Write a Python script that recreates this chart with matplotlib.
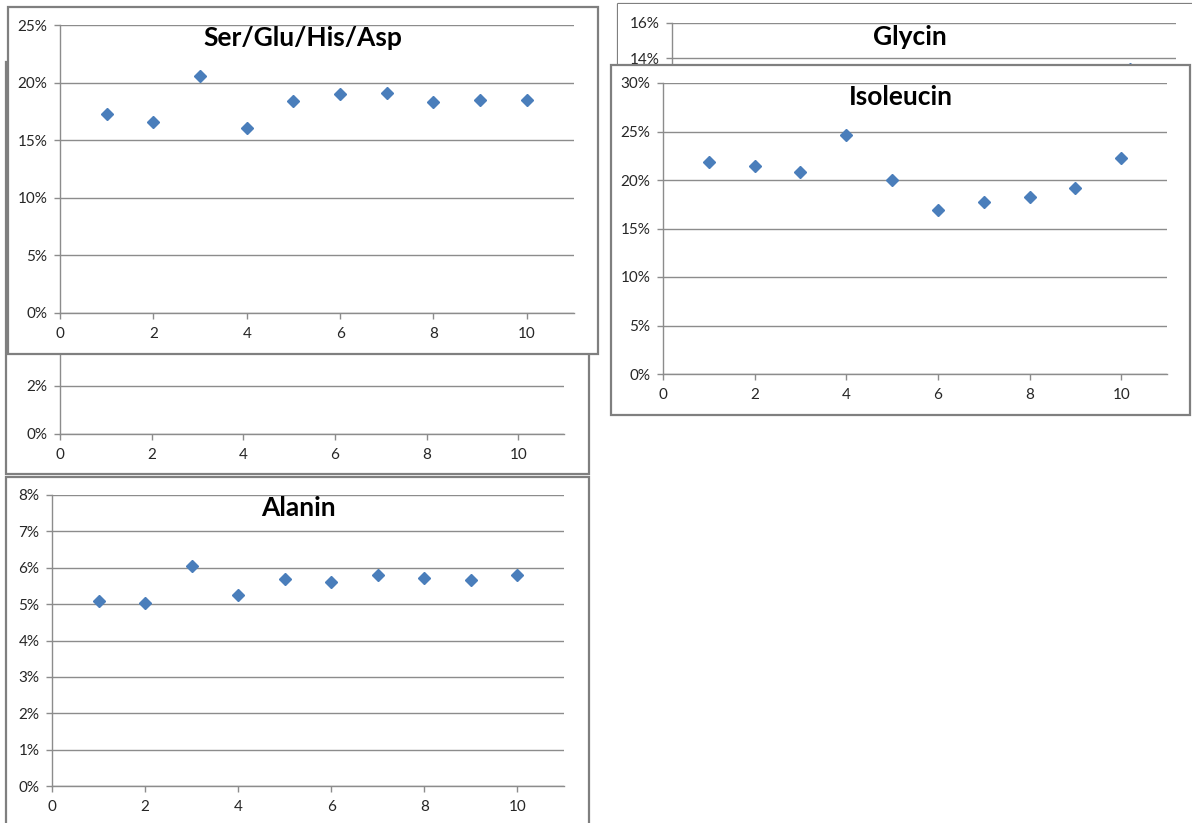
import matplotlib
matplotlib.use("Agg")
import matplotlib.pyplot as plt
from matplotlib.patches import Rectangle
from matplotlib.lines import Line2D

W, H = 1192, 823

# data (fractions)
runs = [1, 2, 3, 4, 5, 6, 7, 8, 9, 10]
ser_glu_his_asp = [0.173, 0.166, 0.206, 0.161, 0.184, 0.190, 0.191, 0.183, 0.185, 0.185]
isoleucin = [0.219, 0.214, 0.208, 0.246, 0.200, 0.169, 0.177, 0.182, 0.192, 0.223]
alanin = [0.0509, 0.0503, 0.0606, 0.0525, 0.0568, 0.0562, 0.0579, 0.0572, 0.0566, 0.0579]
# only the last glycin point peeks out from behind the Isoleucin chart
glycin_runs = [10]
glycin = [0.134]

blue = "#4a7ebb"
grid_col = "#8c8c8c"
border_col = "#7f7f7f"
text_col = "#262626"
font = "Lato"


def fx(x):
    return x / W


def fy(y):
    return 1 - y / H


def panel(fig, left, top, right, bottom, z, full=True):
    r = Rectangle((fx(left), fy(bottom)), fx(right - left), (bottom - top) / H,
                  transform=fig.transFigure, facecolor="white",
                  edgecolor=border_col if full else "none", linewidth=1.6, zorder=z)
    fig.patches.append(r)
    if not full:
        # only the top and left edges are seen
        fig.lines.append(Line2D([fx(left), fx(left), fx(right)],
                                [fy(bottom), fy(top), fy(top)],
                                transform=fig.transFigure, color=border_col,
                                linewidth=1.6, zorder=z))


def chart(fig, x0, x11, ytop, y0, ymax, ystep, z, show_y=None, show_x=True):
    # show_y: lowest and highest percentage that is not covered by another chart
    ax = fig.add_axes([fx(x0), fy(y0), fx(x11 - x0), (y0 - ytop) / H], zorder=z)
    ax.patch.set_alpha(0)
    ax.set_xlim(0, 11)
    ax.set_ylim(0, ymax)
    xt = list(range(0, 11, 2))
    ax.set_xticks(xt)
    ax.set_xticklabels([str(v) if show_x else "" for v in xt])
    n = int(round(ymax / ystep))
    yt = [i * ystep for i in range(n + 1)]
    ax.set_yticks(yt)
    labels = []
    for v in yt:
        p = v * 100
        if show_y is None or show_y[0] - 1e-6 <= p <= show_y[1] + 1e-6:
            labels.append("{:.0f}%".format(p))
        else:
            labels.append("")
    ax.set_yticklabels(labels)
    for s in ["top", "right"]:
        ax.spines[s].set_visible(False)
    for s in ["left", "bottom"]:
        ax.spines[s].set_color(grid_col)
        ax.spines[s].set_linewidth(1.0)
    ax.grid(axis="y", color=grid_col, linewidth=1.0)
    ax.set_axisbelow(True)
    ax.tick_params(axis="both", colors=grid_col, labelcolor=text_col,
                   labelsize=11, length=4, width=1.0)
    ax.tick_params(axis="x", pad=6)
    ax.tick_params(axis="y", pad=5)
    for lab in ax.get_xticklabels() + ax.get_yticklabels():
        lab.set_fontfamily(font)
    return ax


fig = plt.figure(figsize=(W / 100, H / 100), dpi=100)
fig.patch.set_facecolor("white")

# chart hidden behind Ser/Glu/His/Asp
panel(fig, 6, 62, 589, 474, 1)
chart(fig, 60, 564, 433.7 - 14 * 24, 433.7, 0.14, 0.02, 2, show_y=(0, 2))

# Ser/Glu/His/Asp
panel(fig, 8, 7, 598, 354, 3)
ax = chart(fig, 60, 573.5, 25.3, 312.8, 0.25, 0.05, 4)
ax.plot(runs, ser_glu_his_asp, linestyle="none", marker="D", markersize=6.2,
        color=blue, clip_on=False)
fig.text(fx(303), fy(38), "Ser/Glu/His/Asp", ha="center", va="center",
         fontsize=19, fontweight="bold", family=font, zorder=5)

# Glycin (mostly hidden)
panel(fig, 618, 4, 1210, 370, 5, full=False)
ax = chart(fig, 672, 1176, 22.7, 308, 0.16, 0.02, 6, show_y=(14, 16), show_x=False)
ax.plot(glycin_runs, glycin, linestyle="none", marker="D", markersize=6.2,
        color=blue, clip_on=False)
fig.text(fx(910), fy(37), "Glycin", ha="center", va="center",
         fontsize=19, fontweight="bold", family=font, zorder=7)

# Isoleucin
panel(fig, 611, 65, 1190, 415, 7)
ax = chart(fig, 663, 1167, 83, 374, 0.30, 0.05, 8)
ax.plot(runs, isoleucin, linestyle="none", marker="D", markersize=6.2,
        color=blue, clip_on=False)
fig.text(fx(901), fy(97), "Isoleucin", ha="center", va="center",
         fontsize=19, fontweight="bold", family=font, zorder=9)

# Alanin
panel(fig, 6, 477, 589, 835, 9)
ax = chart(fig, 52, 564, 495, 786, 0.08, 0.01, 10)
ax.plot(runs, alanin, linestyle="none", marker="D", markersize=6.2,
        color=blue, clip_on=False)
fig.text(fx(298), fy(508), "Alanin", ha="center", va="center",
         fontsize=19, fontweight="bold", family=font, zorder=11)

fig.savefig("out.png", dpi=100)
